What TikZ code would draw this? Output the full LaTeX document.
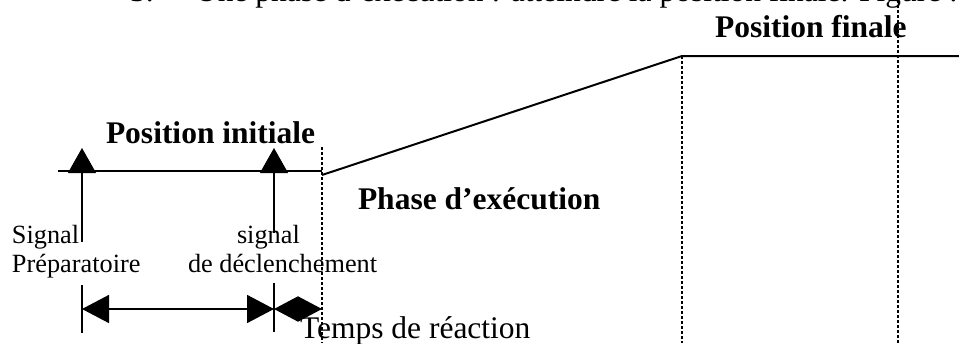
\documentclass[tikz,border=0pt]{standalone}
\usepackage{fontspec}
\setmainfont{Liberation Serif}
\usetikzlibrary{arrows.meta}
\begin{document}
\begin{tikzpicture}[x=1pt,y=-1pt,
  lbl/.style={inner sep=0pt, outer sep=0pt, anchor=base west, font=\fontsize{31.5}{36}\selectfont},
  blbl/.style={inner sep=0pt, outer sep=0pt, anchor=base west, font=\fontsize{31.5}{36}\selectfont\bfseries},
  slbl/.style={inner sep=0pt, outer sep=0pt, anchor=base west, font=\fontsize{26.3}{30}\selectfont},
  curve/.style={line width=2pt},
  dots/.style={line width=1.2pt, dash pattern=on 3pt off 2pt},
  sig/.style={line width=1.3pt, -{Triangle[length=25pt,width=28pt]}},
  tick/.style={line width=1.3pt},
  span/.style={line width=1.6pt, {Triangle[length=27pt,width=28pt]}-{Triangle[length=27pt,width=28pt]}},
  shortspan/.style={line width=1.6pt, {Triangle[length=24pt,width=25pt]}-{Triangle[length=24pt,width=25pt]}}]
\useasboundingbox (0,0) rectangle (959,343);

% top caption (partly cut off by the page)
\node[lbl] (cap) at (130,1.5) {3.\hspace*{41.4pt}Une phase d’exécution : atteindre la position finale. Figure :};

% position curve
\coordinate (L0) at (58,171);
\coordinate (L1) at (322,171);
\coordinate (S0) at (322,175);
\coordinate (S1) at (682,56);
\coordinate (E) at (959,56);
\draw[curve] (L0) -- (L1);
\draw[curve] (S0) -- (S1) -- (E);

% dotted verticals
\coordinate (D1t) at (322,147); \coordinate (D1b) at (322,343);
\coordinate (D2t) at (682,56);  \coordinate (D2b) at (682,343);
\coordinate (D3t) at (898,0);   \coordinate (D3b) at (898,343);
\draw[dots] (D1t) -- (D1b);
\draw[dots] (D2t) -- (D2b);
\draw[dots] (D3t) -- (D3b);

% signal arrows
\coordinate (A1b) at (82,242); \coordinate (A1t) at (82,148);
\coordinate (A2b) at (274,233); \coordinate (A2t) at (274,148);
\draw[sig] (A1b) -- (A1t);
\draw[sig] (A2b) -- (A2t);

% ticks and spans
\coordinate (T1t) at (82,285);  \coordinate (T1b) at (82,333);
\coordinate (T2t) at (274,283); \coordinate (T2b) at (274,332);
\draw[tick] (T1t) -- (T1b);
\draw[tick] (T2t) -- (T2b);
\coordinate (P1) at (82,309);
\coordinate (P2) at (274,309);
\coordinate (P3) at (322,309);
\draw[span] (P1) -- (P2);
\draw[shortspan] (P2) -- (P3);

% labels
\node[blbl] (pinit) at (106,143) {Position initiale};
\node[blbl] (pfin) at (715,37) {Position finale};
\node[blbl] (phase) at (358,209) {Phase d’exécution};
\node[lbl] (temps) at (300,338) {Temps de réaction};
\node[slbl] (sig1) at (12,243) {Signal};
\node[slbl] (sig1b) at (12,272) {Préparatoire};
\node[slbl] (sig2) at (237,243) {signal};
\node[slbl] (sig2b) at (188,272) {de déclenchement};
\end{tikzpicture}
\end{document}
